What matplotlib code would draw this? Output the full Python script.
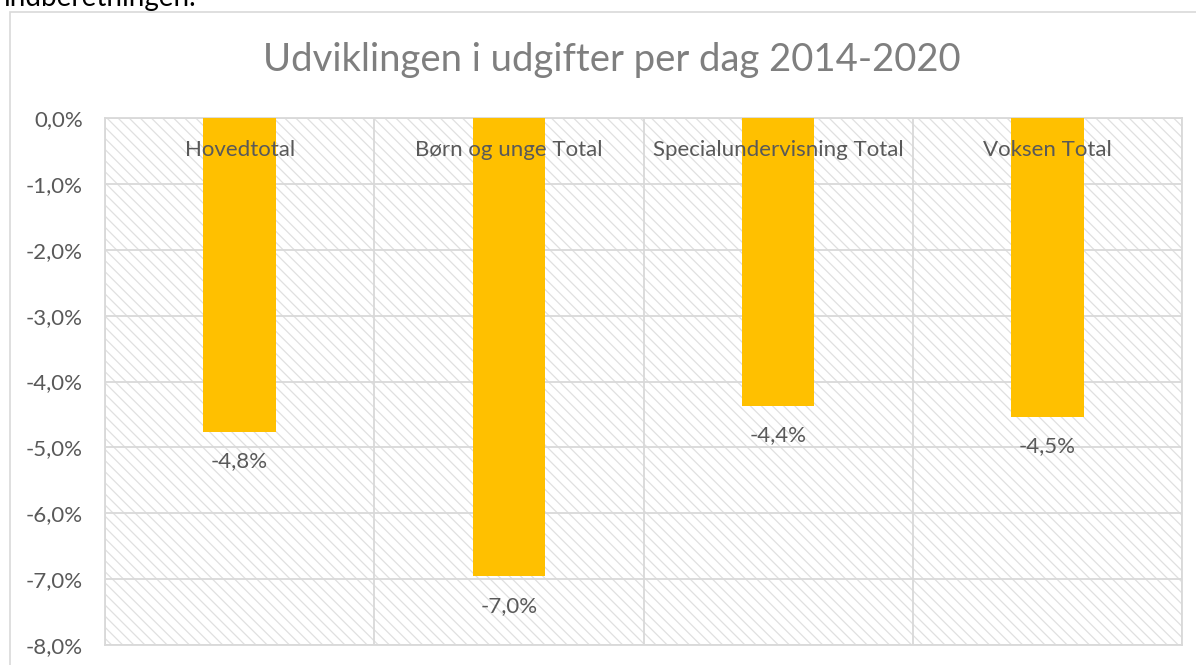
import matplotlib.pyplot as plt
from matplotlib.patches import Rectangle
import numpy as np

plt.rcParams['font.family'] = ['Lato', 'DejaVu Sans']
plt.rcParams['hatch.linewidth'] = 0.9
plt.rcParams['hatch.color'] = '#e0e0e0'

# data
categories = ["Hovedtotal", "Børn og unge Total", "Specialundervisning Total", "Voksen Total"]
values = [-4.77, -6.96, -4.37, -4.54]
yticks = [0, -1, -2, -3, -4, -5, -6, -7, -8]

grey = '#d9d9d9'
txt = '#595959'

fig = plt.figure(figsize=(11.96, 6.65), dpi=100)
ax = fig.add_axes([105/1196, 1-645/665, (1182-105)/1196, (645-118)/665])

# outer chart border (runs off the page on the right and bottom)
fig.add_artist(Rectangle((10/1196, -0.1), 1.2, 1-12/665+0.1, transform=fig.transFigure,
                         fill=False, edgecolor=grey, linewidth=1.2))
# leftover line of the document text above the chart
fig.text(0.003, 1-6/665, "indberetningen.", fontsize=20, color='black', va='baseline', ha='left')

# hatched plot background
ax.add_patch(Rectangle((0, 0), 1, 1, transform=ax.transAxes, facecolor='white',
                       hatch='\\\\\\', edgecolor='#e0e0e0', linewidth=0, zorder=0))

x = np.arange(len(categories))
bars = ax.bar(x, values, width=0.27, color='#ffc000', zorder=3)

ax.set_xlim(-0.5, len(categories) - 0.5)
ax.set_ylim(-8, 0)
ax.set_yticks(yticks)
ax.set_yticklabels([f"{v:.1f}%".replace('.', ',') for v in yticks], fontsize=16, color=txt)
ax.tick_params(axis='y', length=0, pad=16)
ax.set_xticks([])

for yv in yticks:
    ax.axhline(yv, color=grey, linewidth=1.3, zorder=1)
for xb in np.arange(len(categories) + 1) - 0.5:
    ax.axvline(xb, color=grey, linewidth=1.3, zorder=1)
for s in ax.spines.values():
    s.set_color(grey)
    s.set_linewidth(1.3)

# category labels near the zero line
for xi, c in zip(x, categories):
    ax.annotate(c, (xi, 0), xytext=(0, -23), textcoords='offset points',
                ha='center', va='center', fontsize=16, color=txt, zorder=4)

# value labels below the bars
for xi, v in zip(x, values):
    ax.annotate(f"{v:.1f}%".replace('.', ','), (xi, v), xytext=(0, -21),
                textcoords='offset points', ha='center', va='center',
                fontsize=16, color=txt, zorder=4)

fig.text(0.5 * (267 + 957) / 1196, 1 - 60/665, "Udviklingen i udgifter per dag 2014-2020",
         ha='center', va='center', fontsize=27.5, color='#7f7f7f')

fig.savefig("out.png", dpi=100)
